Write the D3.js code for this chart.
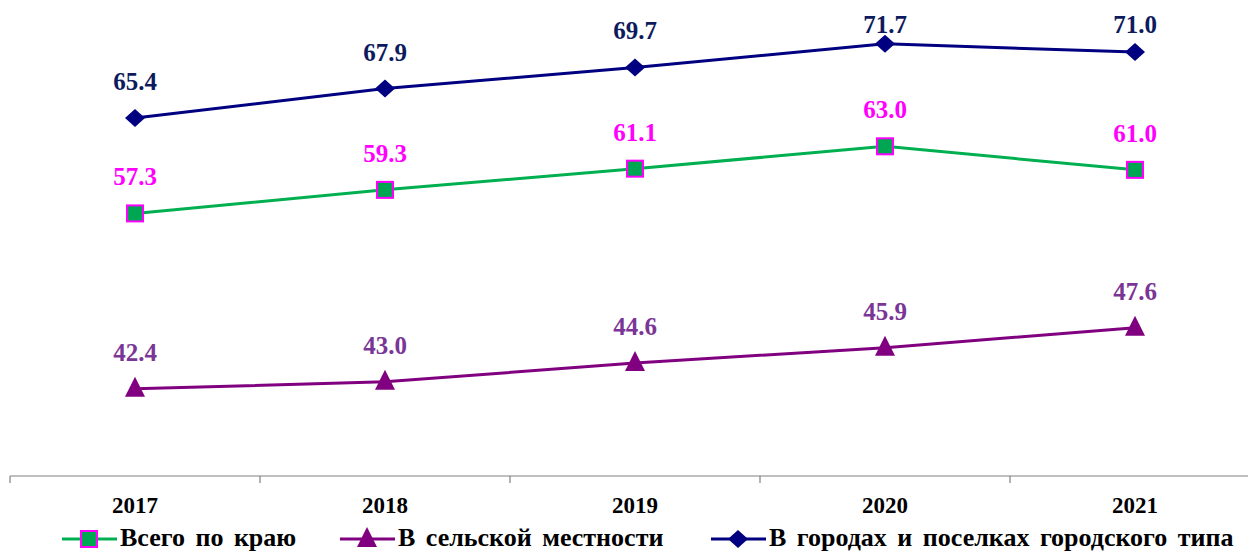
<!DOCTYPE html>
<html>
<head>
<meta charset="utf-8">
<script src="https://cdn.jsdelivr.net/npm/d3@7"></script>
<style>
  body { margin: 0; background: #fff; }
  svg { display: block; }
  text { font-family: 'Liberation Serif', 'Times New Roman', Times, serif; font-weight: bold; }
</style>
</head>
<body>
<div id="chart"></div>
<script>
const years = ['2017', '2018', '2019', '2020', '2021']
const totalValues = [57.3, 59.3, 61.1, 63.0, 61.0]
const ruralValues = [42.4, 43.0, 44.6, 45.9, 47.6]
const urbanValues = [65.4, 67.9, 69.7, 71.7, 71.0]
const seriesNames = ['Всего по краю', 'В сельской местности', 'В городах и поселках городского типа']

const W = 1248, H = 551

const series = [
  { name: seriesNames[0], values: totalValues, line: '#00b050', label: '#ff00ff', marker: 'square' },
  { name: seriesNames[1], values: ruralValues, line: '#800080', label: '#7a3596', marker: 'triangle' },
  { name: seriesNames[2], values: urbanValues, line: '#000080', label: '#0d1b5e', marker: 'diamond' }
]

const svg = d3.select('#chart').append('svg')
  .attr('width', W)
  .attr('height', H)

const x = d3.scaleBand().domain(years).range([10, 1260])
const y = d3.scaleLinear().domain([35, 75]).range([476, 5])

// x axis: line + ticks between categories
const axis = svg.append('g').attr('transform', 'translate(0,476)')
axis.append('line')
  .attr('x1', 10).attr('x2', W)
  .attr('stroke', '#808080').attr('stroke-width', 1.2)
axis.selectAll('.tick')
  .data(years)
  .enter().append('line')
  .attr('x1', d => x(d)).attr('x2', d => x(d))
  .attr('y1', 0).attr('y2', 7)
  .attr('stroke', '#808080').attr('stroke-width', 1.2)
svg.selectAll('.year')
  .data(years)
  .enter().append('text')
  .attr('x', d => x(d) + x.bandwidth() / 2)
  .attr('y', 513)
  .attr('text-anchor', 'middle')
  .style('font-size', '23px')
  .attr('fill', '#000')
  .text(d => d)

function drawMarker(g, type, s) {
  if (type === 'square') {
    g.append('rect')
      .attr('x', -8).attr('y', -8).attr('width', 16).attr('height', 16)
      .attr('fill', '#00a651').attr('stroke', '#ff00ff').attr('stroke-width', 2)
  } else if (type === 'triangle') {
    g.append('path')
      .attr('d', 'M0,-12 L10,8 L-10,8 Z')
      .attr('fill', s.line)
  } else {
    g.append('path')
      .attr('d', 'M0,-9 L10,0 L0,9 L-10,0 Z')
      .attr('fill', s.line)
  }
}

const line = d3.line()
  .x((d, i) => x(years[i]) + x.bandwidth() / 2)
  .y(d => y(d))

series.forEach(s => {
  svg.append('path')
    .datum(s.values)
    .attr('d', line)
    .attr('fill', 'none')
    .attr('stroke', s.line)
    .attr('stroke-width', 3)

  s.values.forEach((v, i) => {
    const cx = x(years[i]) + x.bandwidth() / 2
    const cy = y(v)
    const g = svg.append('g').attr('transform', 'translate(' + cx + ',' + cy + ')')
    drawMarker(g, s.marker, s)
    svg.append('text')
      .attr('x', cx)
      .attr('y', Math.max(cy - 28, 33))
      .attr('text-anchor', 'middle')
      .style('font-size', '25px')
      .attr('fill', s.label)
      .text(v.toFixed(1))
  })
})

// legend
const legendX = [62, 340, 711]
series.forEach((s, i) => {
  const lg = svg.append('g').attr('transform', 'translate(' + legendX[i] + ',539)')
  lg.append('line')
    .attr('x1', 0).attr('x2', 55)
    .attr('stroke', s.line).attr('stroke-width', 3)
  drawMarker(lg.append('g').attr('transform', 'translate(27,0)'), s.marker, s)
  lg.append('text')
    .attr('x', 58)
    .attr('y', 7)
    .style('font-size', '26px')
    .style('word-spacing', '4px')
    .attr('fill', '#000')
    .text(s.name)
})
</script>
</body>
</html>
